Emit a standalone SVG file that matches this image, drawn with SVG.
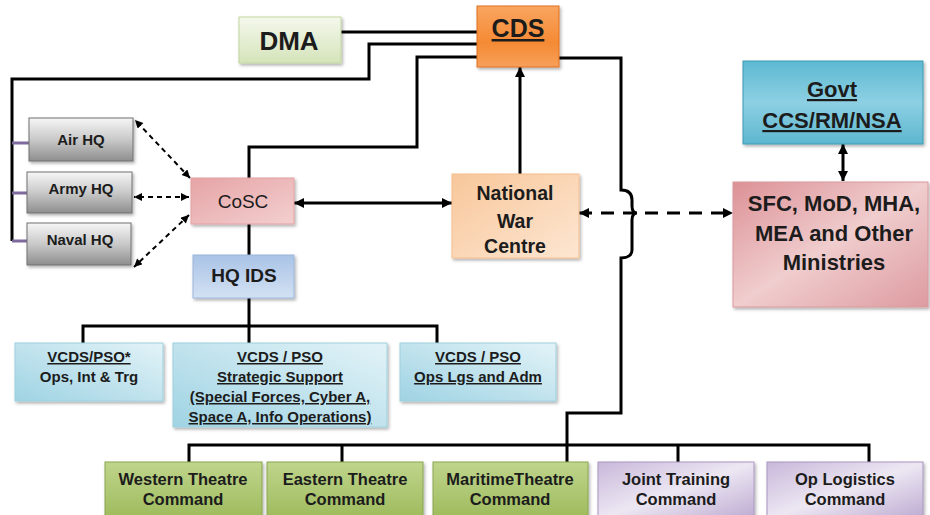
<svg xmlns="http://www.w3.org/2000/svg" width="930" height="515" viewBox="0 0 930 515">
<defs>
<style>
text{font-family:"Liberation Sans",Arial,sans-serif;font-weight:bold;fill:#1c1c1c;text-anchor:middle}
.ln{fill:none;stroke:#000;stroke-width:3}
.pu{fill:none;stroke:#7E6A9C;stroke-width:3}
.dl{fill:none;stroke:#000;stroke-width:3;stroke-dasharray:13 9}
.ds{fill:none;stroke:#000;stroke-width:2;stroke-dasharray:5 4}
.u{text-decoration:underline}
.box{filter:url(#sh)}
</style>
<filter id="sh" x="-10%" y="-10%" width="130%" height="140%"><feDropShadow dx="1.5" dy="2" stdDeviation="1.5" flood-color="#000" flood-opacity="0.3"/></filter>
<marker id="ah" viewBox="0 0 10 10" refX="10" refY="5" markerWidth="11" markerHeight="10" markerUnits="userSpaceOnUse" orient="auto-start-reverse"><path d="M0,0 L10,5 L0,10 z" fill="#000"/></marker>
<marker id="as" viewBox="0 0 10 10" refX="10" refY="5" markerWidth="9" markerHeight="8" markerUnits="userSpaceOnUse" orient="auto-start-reverse"><path d="M0,0 L10,5 L0,10 z" fill="#000"/></marker>
<linearGradient id="gCDS" x1="0" y1="0" x2="0" y2="1"><stop offset="0" stop-color="#F9A560"/><stop offset="0.6" stop-color="#F58A34"/><stop offset="1" stop-color="#F7A05A"/></linearGradient>
<linearGradient id="gDMA" x1="0" y1="0" x2="0" y2="1"><stop offset="0" stop-color="#F4F8EC"/><stop offset="1" stop-color="#D5E4BA"/></linearGradient>
<linearGradient id="gGray" x1="0" y1="0" x2="0" y2="1"><stop offset="0" stop-color="#F6F6F6"/><stop offset="0.5" stop-color="#C9C9C9"/><stop offset="1" stop-color="#8E8E8E"/></linearGradient>
<linearGradient id="gCoSC" x1="0" y1="0" x2="1" y2="1"><stop offset="0" stop-color="#E6A4A6"/><stop offset="1" stop-color="#F3CFCF"/></linearGradient>
<linearGradient id="gIDS" x1="0" y1="0" x2="0" y2="1"><stop offset="0" stop-color="#A9C3E6"/><stop offset="1" stop-color="#D3E1F3"/></linearGradient>
<linearGradient id="gNWC" x1="0" y1="0" x2="1" y2="1"><stop offset="0" stop-color="#F8C79A"/><stop offset="1" stop-color="#FDE6D2"/></linearGradient>
<linearGradient id="gGovt" x1="0" y1="0" x2="0" y2="1"><stop offset="0" stop-color="#5DB9D2"/><stop offset="0.5" stop-color="#8DD0E3"/><stop offset="1" stop-color="#5DB6CF"/></linearGradient>
<linearGradient id="gSFC" x1="0" y1="0" x2="1" y2="1"><stop offset="0" stop-color="#DC9196"/><stop offset="0.5" stop-color="#F0CDCE"/><stop offset="1" stop-color="#DD9BA0"/></linearGradient>
<linearGradient id="gVC" x1="0" y1="1" x2="1" y2="0"><stop offset="0" stop-color="#9FD3E3"/><stop offset="1" stop-color="#E3F3F8"/></linearGradient>
<linearGradient id="gGr" x1="0" y1="0" x2="0" y2="1"><stop offset="0" stop-color="#BFD58C"/><stop offset="1" stop-color="#9DBA5B"/></linearGradient>
<linearGradient id="gPu" x1="0" y1="0" x2="1" y2="1"><stop offset="0" stop-color="#C8B8DA"/><stop offset="0.5" stop-color="#EDE7F3"/><stop offset="1" stop-color="#BBA9D0"/></linearGradient>
</defs>
<rect width="930" height="515" fill="#fff"/>

<g id="connectors">
<path class="ln" d="M341,32 H477"/>
<path class="ln" d="M477,44 H369 V79 H12 V241"/>
<path class="pu" d="M12,143 H29 M12,193 H27 M12,241 H27"/>
<path class="ln" d="M477,57 H417 V147 H249 V178"/>
<path class="ln" d="M559,58 H621 V190 C628,190 632,193 632,200 V206 Q632,213 637,213 Q632,213 632,220 V250 C632,255 628,258 621,258 V413 H567 V462"/>
<path class="ln" d="M249,224 V255"/>
<path class="ln" d="M249,298 V343 M83,343 V326 H437 V343"/>
<path class="ln" d="M189,462 V445 H869 V462 M342,445 V462 M678,445 V462"/>
<path class="ln" d="M520,174 V67" marker-end="url(#ah)"/>
<path class="ln" d="M294,203 H452" marker-start="url(#ah)" marker-end="url(#ah)"/>
<path class="dl" d="M579,213 H733" marker-start="url(#ah)" marker-end="url(#ah)"/>
<path class="ln" d="M843,144 V181" marker-start="url(#ah)" marker-end="url(#ah)"/>
<path class="ds" d="M190,178 L135,120" marker-start="url(#as)" marker-end="url(#as)"/>
<path class="ds" d="M189,197 H134" marker-start="url(#as)" marker-end="url(#as)"/>
<path class="ds" d="M189,215 L134,267" marker-start="url(#as)" marker-end="url(#as)"/>
</g>

<g id="dma"><rect class="box" x="239" y="17" width="102" height="46" fill="url(#gDMA)" stroke="#C2D6A0"/><text x="289" y="50" font-size="26">DMA</text></g>
<g id="cds"><rect class="box" x="477" y="6" width="82" height="61" fill="url(#gCDS)" stroke="#E07020"/><text x="518" y="37" font-size="25" class="u">CDS</text></g>
<g id="airhq"><rect class="box" x="29" y="118" width="104" height="43" fill="url(#gGray)" stroke="#707070"/><text x="81" y="145" font-size="15">Air HQ</text></g>
<g id="armyhq"><rect class="box" x="27" y="172" width="105" height="41" fill="url(#gGray)" stroke="#707070"/><text x="81" y="194" font-size="15">Army HQ</text></g>
<g id="navalhq"><rect class="box" x="27" y="223" width="104" height="42" fill="url(#gGray)" stroke="#707070"/><text x="80" y="245" font-size="15">Naval HQ</text></g>
<g id="cosc"><rect class="box" x="191" y="178" width="103" height="46" fill="url(#gCoSC)" stroke="#E2A0A2"/><text x="243" y="208" font-size="19" font-weight="normal" style="font-weight:normal">CoSC</text></g>
<g id="hqids"><rect class="box" x="193" y="255" width="101" height="43" fill="url(#gIDS)" stroke="#9BB6DA"/><text x="244" y="282" font-size="19">HQ IDS</text></g>
<g id="nwc"><rect class="box" x="452" y="174" width="127" height="84" fill="url(#gNWC)" stroke="#F6BE8E"/>
<text x="515" y="200" font-size="19.5">National</text><text x="515" y="228" font-size="19.5">War</text><text x="515" y="253" font-size="19.5">Centre</text></g>
<g id="govt"><rect class="box" x="743" y="61" width="180" height="83" fill="url(#gGovt)" stroke="#3E9AB3"/>
<text x="832" y="97" font-size="22" class="u">Govt</text><text x="832" y="128" font-size="22" class="u">CCS/RM/NSA</text></g>
<g id="sfc"><rect class="box" x="733" y="182" width="195" height="125" fill="url(#gSFC)" stroke="#D79A9D"/>
<text x="834" y="211" font-size="22">SFC, MoD, MHA,</text><text x="834" y="241" font-size="22">MEA and Other</text><text x="834" y="270" font-size="22">Ministries</text></g>
<g id="vcds1"><rect class="box" x="15" y="343" width="148" height="58" fill="url(#gVC)" stroke="#9ED0DE"/>
<text x="89" y="362" font-size="15" class="u">VCDS/PSO*</text><text x="89" y="382" font-size="15">Ops, Int &amp; Trg</text></g>
<g id="vcds2"><rect class="box" x="173" y="343" width="214" height="84" fill="url(#gVC)" stroke="#9ED0DE"/>
<text x="280" y="362" font-size="15" class="u">VCDS / PSO</text><text x="280" y="382" font-size="15" class="u">Strategic Support</text><text x="280" y="402" font-size="15" class="u">(Special Forces, Cyber A,</text><text x="280" y="422" font-size="15" class="u">Space A, Info Operations)</text></g>
<g id="vcds3"><rect class="box" x="400" y="343" width="156" height="58" fill="url(#gVC)" stroke="#9ED0DE"/>
<text x="478" y="362" font-size="15" class="u">VCDS / PSO</text><text x="478" y="382" font-size="15" class="u">Ops Lgs and Adm</text></g>
<g id="western"><rect class="box" x="105" y="462" width="157" height="58" fill="url(#gGr)" stroke="#8AA650"/><text x="183" y="485" font-size="16.5">Western Theatre</text><text x="183" y="505" font-size="16.5">Command</text></g>
<g id="eastern"><rect class="box" x="267" y="462" width="156" height="58" fill="url(#gGr)" stroke="#8AA650"/><text x="345" y="485" font-size="16.5">Eastern Theatre</text><text x="345" y="505" font-size="16.5">Command</text></g>
<g id="maritime"><rect class="box" x="433" y="462" width="155" height="58" fill="url(#gGr)" stroke="#8AA650"/><text x="510" y="485" font-size="16.5">MaritimeTheatre</text><text x="510" y="505" font-size="16.5">Command</text></g>
<g id="jointtraining"><rect class="box" x="598" y="462" width="156" height="58" fill="url(#gPu)" stroke="#A896C0"/><text x="676" y="485" font-size="16.5">Joint Training</text><text x="676" y="505" font-size="16.5">Command</text></g>
<g id="oplogistics"><rect class="box" x="767" y="462" width="156" height="58" fill="url(#gPu)" stroke="#A896C0"/><text x="845" y="485" font-size="16.5">Op Logistics</text><text x="845" y="505" font-size="16.5">Command</text></g>
</svg>
